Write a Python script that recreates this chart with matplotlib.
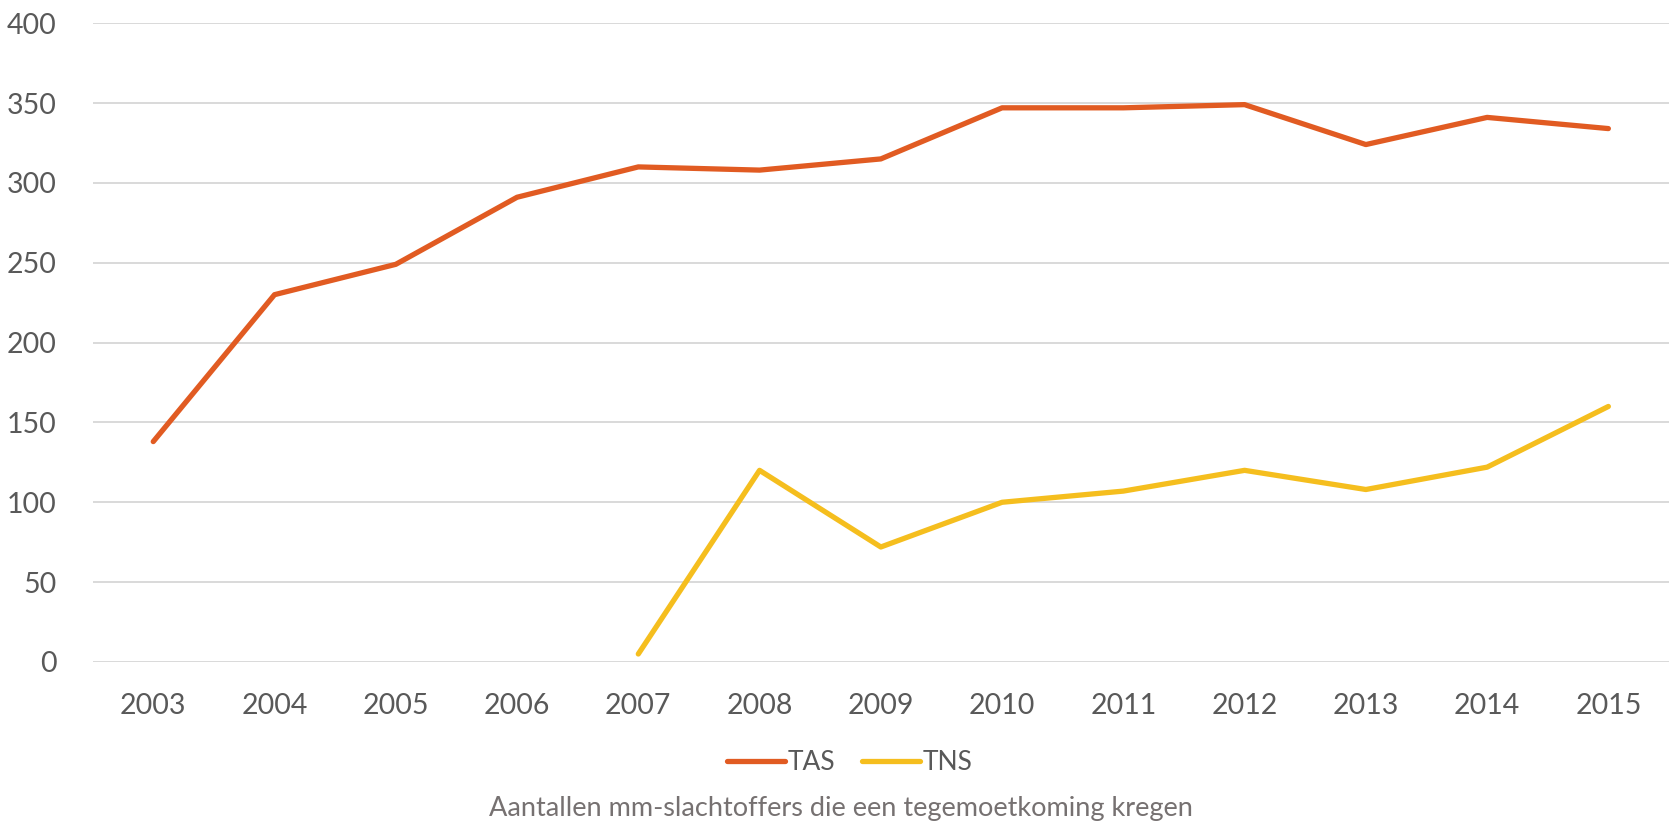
import matplotlib.pyplot as plt
import numpy as np

years = ["2003", "2004", "2005", "2006", "2007", "2008", "2009",
         "2010", "2011", "2012", "2013", "2014", "2015"]
tas = [138, 230, 249, 291, 310, 308, 315, 347, 347, 349, 324, 341, 334]
tns = [np.nan, np.nan, np.nan, np.nan, 5, 120, 72, 100, 107, 120, 108, 122, 160]
yticks = [0, 50, 100, 150, 200, 250, 300, 350, 400]

plt.rcParams['font.family'] = ['Lato', 'DejaVu Sans']
txt = '#595959'

fig = plt.figure(figsize=(16.69, 8.25), dpi=100)
ax = fig.add_axes([0.0555, 0.1976, 0.9445, 0.7743])

x = np.arange(len(years))
ax.plot(x, tas, color='#E15B22', lw=3.8, label='TAS', solid_capstyle='round', zorder=3)
ax.plot(x, tns, color='#F5BE1E', lw=3.8, label='TNS', solid_capstyle='round', zorder=3)

ax.set_xlim(-0.5, len(years) - 0.5)
ax.set_ylim(0, 400)
ax.set_yticks(yticks)
ax.set_xticks(x)
ax.set_xticklabels(years)
ax.yaxis.grid(True, color='#D9D9D9', lw=1.4)
ax.set_axisbelow(True)
for s in ax.spines.values():
    s.set_visible(False)
ax.tick_params(length=0, labelsize=20.5, labelcolor=txt)
ax.tick_params(axis='y', pad=26)
ax.tick_params(axis='x', pad=22)

fig.legend(loc='center', bbox_to_anchor=(0.509, 0.076), ncol=2, frameon=False,
           fontsize=19, labelcolor=txt, handlelength=2.2, handletextpad=0.1,
           columnspacing=1.0)
fig.text(0.504, 0.02, "Aantallen mm-slachtoffers die een tegemoetkoming kregen",
         ha='center', va='center', fontsize=19.5, color='#767171')

fig.savefig('out.png', dpi=100)
